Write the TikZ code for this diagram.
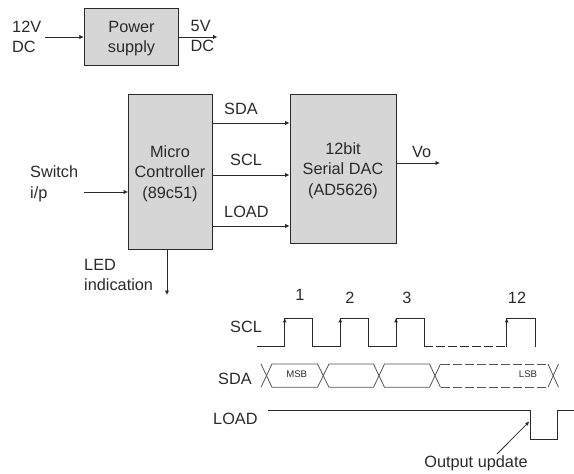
\documentclass[tikz,border=0pt]{standalone}
\usepackage{fontspec}
\setmainfont{Liberation Sans}
\usetikzlibrary{arrows.meta}
\definecolor{boxfill}{HTML}{D6D6D6}
\definecolor{ink}{HTML}{2A2A2A}
\tikzset{
  blockbox/.style={draw=ink,fill=boxfill,line width=0.9pt,inner sep=0pt},
  blocktext/.style={inner sep=0pt,align=center,font=\fontsize{16.3}{20.7}\selectfont,text=ink},
  lbl/.style={inner sep=0pt,align=left,font=\fontsize{16.3}{20.7}\selectfont,text=ink},
  small/.style={inner sep=0pt,font=\fontsize{9.6}{10}\selectfont,text=ink},
  link/.style={draw=ink,line width=0.8pt,-{Latex[length=4.5pt,width=4.5pt]}},
  wave/.style={draw=ink,line width=0.8pt},
  dashwave/.style={wave,dash pattern=on 9pt off 3pt},
  edgetip/.style={draw=ink,line width=0.8pt,-{Latex[length=4pt,width=4pt]}}
}
\begin{document}
\begin{tikzpicture}[x=1pt,y=-1pt]
\useasboundingbox (0,0) rectangle (574,474);
% power supply
\node[blockbox,minimum width=94.5pt,minimum height=57pt] (ps) at (131.5,36.5) {};
\node[blocktext] (pst) at (131.5,38.5) {Power\\supply};
\coordinate (psin) at (45,37);
\coordinate (psout) at (217.5,37);
\draw[link] (psin) -- (ps.west |- psin);
\draw[link] (ps.east |- psout) -- (psout);
\node[lbl,anchor=west] (t12v) at (12,37) {12V\\DC};
\node[lbl,anchor=west] (t5v) at (190.5,36) {5V\\DC};
% blocks
\node[blockbox,minimum width=83.5pt,minimum height=155pt] (mc) at (170.3,171.5) {};
\node[blocktext] (mct) at (170,173.5) {Micro\\Controller\\(89c51)};
\node[blockbox,minimum width=106pt,minimum height=149pt] (dac) at (343,168.5) {};
\node[blocktext] (dact) at (343,170.5) {12bit\\Serial DAC\\(AD5626)};
\coordinate (sda) at (0,123);
\coordinate (scl) at (0,175);
\coordinate (load) at (0,226);
\draw[link] (mc.east |- sda) -- (dac.west |- sda);
\draw[link] (mc.east |- scl) -- (dac.west |- scl);
\draw[link] (mc.east |- load) -- (dac.west |- load);
\node[lbl,anchor=base west] (tsda) at (224,114) {SDA};
\node[lbl,anchor=base west] (tscl) at (230,165) {SCL};
\node[lbl,anchor=base west] (tload) at (224,217) {LOAD};
\coordinate (vo) at (440,163);
\draw[link] (dac.east |- vo) -- (vo);
\node[lbl,anchor=base west] (tvo) at (412,157) {Vo};
\coordinate (sw) at (84,192);
\draw[link] (sw) -- (mc.west |- sw);
\node[lbl,anchor=west] (tsw) at (30,183.5) {Switch\\i/p};
\coordinate (led) at (167,295);
\draw[link] (mc.south -| led) -- (led);
\node[lbl,anchor=west] (tled) at (84,275) {LED\\indication};
% numbers
\node[lbl,anchor=base] (n1) at (300,300) {1};
\node[lbl,anchor=base] (n2) at (350,303) {2};
\node[lbl,anchor=base] (n3) at (407,303) {3};
\node[lbl,anchor=base] (n12) at (517,303) {12};
\node[lbl,anchor=base west] (lscl) at (230,332) {SCL};
\node[lbl,anchor=base west] (lsda) at (218,384) {SDA};
\node[lbl,anchor=base west] (lload) at (213,424) {LOAD};
% SCL
\coordinate (c0) at (256.7,346.7);
\coordinate (r1) at (284.7,346.7);
\coordinate (r1t) at (284.7,318.3);
\coordinate (r2) at (340.3,346.7);
\coordinate (r2t) at (340.3,318.3);
\coordinate (r3) at (396,346.7);
\coordinate (r3t) at (396,318.3);
\coordinate (r4) at (506.7,346.7);
\coordinate (r4t) at (506.7,318.3);
\draw[wave] (c0) -- (r1) -- (r1t) -- (312.7,318.3) -- (312.7,346.7) -- (r2) -- (r2t) -- (368.3,318.3) -- (368.3,346.7) -- (r3) -- (r3t) -- (424,318.3) -- (424,346.7);
\draw[dashwave] (424,346.7) -- (r4);
\draw[wave] (r4) -- (r4t) -- (535,318.3) -- (535,346.7);
\draw[edgetip] (r1) -- (r1t);
\draw[edgetip] (r2) -- (r2t);
\draw[edgetip] (r3) -- (r3t);
\draw[edgetip] (r4) -- (r4t);
% SDA
\draw[wave,draw=ink!80] (261,364) -- (272,387.3) -- (317.5,387.3) -- (329,364) -- (373.5,364) -- (384.5,387.3) -- (429.5,387.3) -- (440.5,364);
\draw[wave,draw=ink!80] (261,387.3) -- (272,364) -- (317.5,364) -- (329,387.3) -- (373.5,387.3) -- (384.5,364) -- (429.5,364) -- (440.5,387.3);
\draw[dashwave,draw=ink!80] (440.5,364) -- (548,364);
\draw[dashwave,draw=ink!80] (440.5,387.3) -- (548,387.3);
\draw[wave,draw=ink!80] (548,364) -- (558.5,387.3);
\draw[wave,draw=ink!80] (548,387.3) -- (558.5,364);
\node[small] (msb) at (296.7,374.5) {MSB};
\node[small] (lsb) at (528,374.5) {LSB};
% LOAD
\draw[wave] (267.7,410.3) -- (530,410.3) -- (530,439.3) -- (557.3,439.3) -- (557.3,410.3) -- (574,410.3);
\node[lbl,anchor=base] (tout) at (476,467) {Output update};
\coordinate (oa) at (497,454);
\coordinate (ob) at (529.3,421.5);
\draw[edgetip] (oa) -- (ob);
\end{tikzpicture}
\end{document}
